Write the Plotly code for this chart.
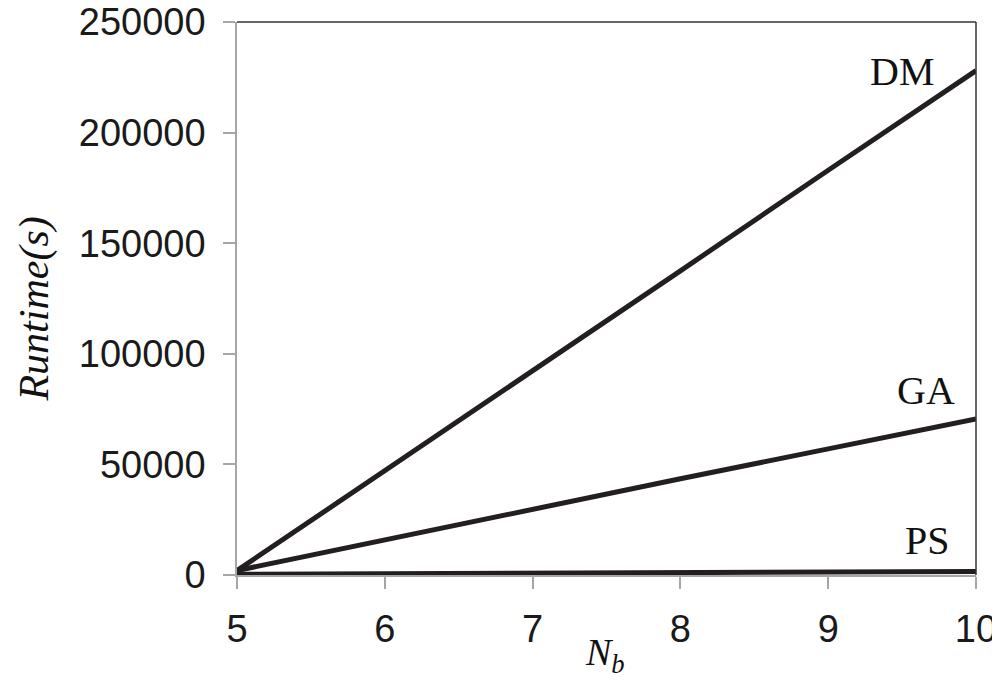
import plotly.graph_objects as go

# valores
nb = [5, 6, 7, 8, 9, 10]
runtime_dm = [2000, 47000, 92000, 137500, 183000, 228000]
runtime_ga = [2000, 16000, 30000, 43500, 57000, 70500]
runtime_ps = [300, 600, 800, 1000, 1300, 1600]

rotulos = [("DM", 9.5, 227500), ("GA", 9.66, 83500), ("PS", 9.67, 15500)]

cor_linha = "#231f20"
cor_eixo = "#a6a6a6"

fig = go.Figure()
for nome, valores in [("DM", runtime_dm), ("GA", runtime_ga), ("PS", runtime_ps)]:
    fig.add_trace(go.Scatter(x=nb, y=valores, mode="lines", name=nome,
                             line=dict(color=cor_linha, width=5), showlegend=False))

for texto, x, y in rotulos:
    fig.add_annotation(x=x, y=y, text=texto, showarrow=False,
                       font=dict(family="Liberation Serif", size=40, color="#111"))

# título do eixo y (itálico, serifado)
fig.add_annotation(xref="paper", yref="paper", x=0, y=0.48, xshift=-202,
                   text="<i>Runtime(s)</i>", textangle=-90, showarrow=False,
                   xanchor="center", yanchor="middle",
                   font=dict(family="Liberation Serif", size=42, color="#111"))
# título do eixo x
fig.add_annotation(xref="paper", yref="paper", x=0.498, y=0, yshift=-80,
                   text="<i>N</i><sub><i>b</i></sub>", showarrow=False,
                   xanchor="center", yanchor="middle",
                   font=dict(family="Liberation Serif", size=38, color="#111"))

# borda superior e direita escura
fig.add_shape(type="line", xref="paper", yref="paper", x0=0, x1=1, y0=1, y1=1,
              line=dict(color="#333", width=1.5))
fig.add_shape(type="line", xref="paper", yref="paper", x0=1, x1=1, y0=0, y1=1,
              line=dict(color="#333", width=1.5))

# a página tem margem de 8px, por isso a figura é um pouco menor
fig.update_layout(
    width=992, height=675,
    margin=dict(l=229, r=24, t=14, b=108),
    paper_bgcolor="white", plot_bgcolor="white",
    font=dict(family="Liberation Sans", size=38, color="#1a1a1a"),
    xaxis=dict(range=[5, 10], tickvals=[5, 6, 7, 8, 9, 10], showgrid=False,
               zeroline=False, showline=True, linecolor=cor_eixo, linewidth=1.5,
               ticks="outside", ticklen=12, tickcolor=cor_eixo, tickwidth=1.5,
               ticklabelstandoff=8, automargin=False, ticklabeloverflow="allow"),
    yaxis=dict(range=[0, 250000], tickvals=[0, 50000, 100000, 150000, 200000, 250000],
               tickformat="d", showgrid=False, zeroline=False, showline=True,
               linecolor=cor_eixo, linewidth=1.5, ticks="outside", ticklen=12,
               tickcolor=cor_eixo, tickwidth=1.5, ticklabelstandoff=10,
               automargin=False, ticklabeloverflow="allow"),
)

fig.write_html("out.html")
